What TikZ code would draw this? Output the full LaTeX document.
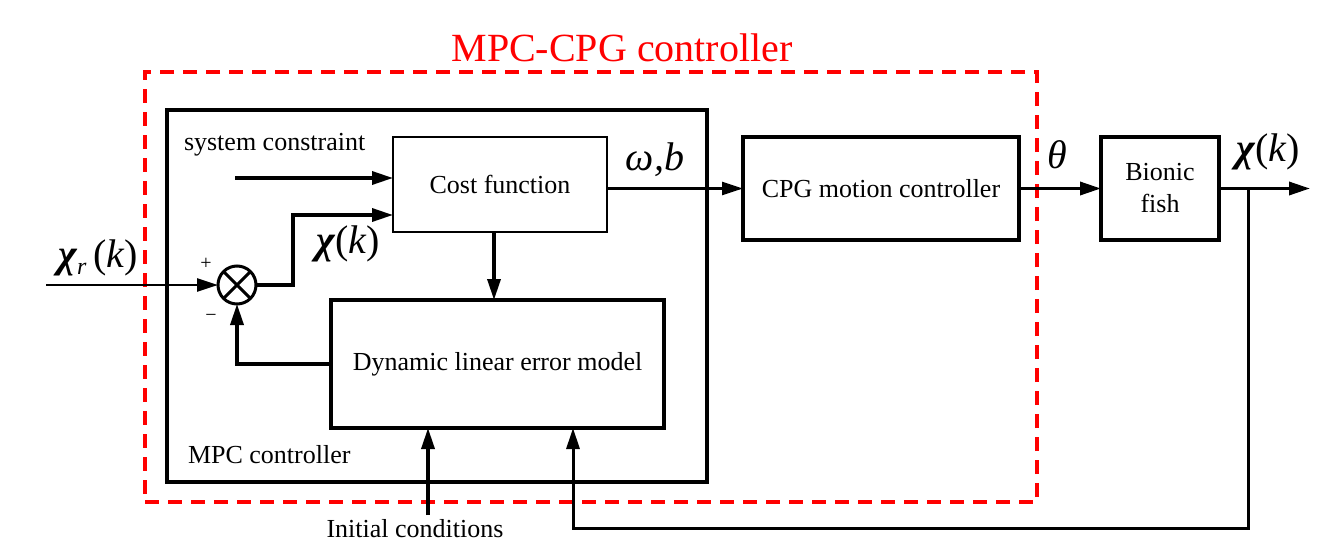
\documentclass[tikz,border=0pt]{standalone}
\usepackage{fontspec}
\setmainfont{Liberation Serif}
\usetikzlibrary{arrows.meta}
\begin{document}
\begin{tikzpicture}[x=1pt,y=-1pt,
  every node/.style={outer sep=0pt, inner sep=0pt},
  txt/.style={font=\fontsize{26}{30}\selectfont},
  mth/.style={font=\fontsize{40}{46}\selectfont\itshape},
  block/.style={draw, line width=3.6pt, txt, align=center},
  thinblock/.style={draw, line width=2.4pt, txt, align=center},
  tip/.style={-{Triangle[length=21pt,width=13pt]}},
  arr/.style={line width=3.4pt, tip},
  ln/.style={line width=3pt},
  redbox/.style={draw=red, line width=3.2pt, dash pattern=on 14pt off 9pt}
]
\useasboundingbox (0,0) rectangle (1325,549);

% red dashed outer box
\node[redbox, minimum width=892pt, minimum height=430pt] (outer) at (591,287) {};
\node[font=\fontsize{40}{46}\selectfont, text=red] (title) at (622,48) {MPC-CPG controller};

% MPC controller box
\node[draw, line width=3.8pt, minimum width=540pt, minimum height=372pt] (mpc) at (437,296) {};
\node[txt, anchor=west] (mpclab) at (188,455) {MPC controller};

% blocks
\node[thinblock, minimum width=214pt, minimum height=95pt] (cost) at (500,184.5) {Cost function};
\node[block, minimum width=333pt, minimum height=128pt] (dyn) at (497.5,364) {Dynamic linear error model};
\node[block, minimum width=276pt, minimum height=103pt] (cpg) at (881,188.5) {CPG motion controller};
\node[block, minimum width=118pt, minimum height=103pt] (fish) at (1160,188.5) {Bionic\\[2pt]fish};

% summing junction
\node[draw, circle, line width=3pt, minimum size=38pt] (sum) at (237,285) {};
\draw[line width=3pt] (sum.north west) -- (sum.south east) (sum.north east) -- (sum.south west);
\node[font=\fontsize{20}{24}\selectfont] (plus) at (206,264) {+};
\node[font=\fontsize{20}{24}\selectfont] (minus) at (211,318) {−};

% coordinates
\coordinate (in) at (46,285);
\coordinate (sc) at (235,178);
\coordinate (out) at (1310,188.5);
\coordinate (fbtop) at (1248,188.5);
\coordinate (fbbot) at (1248,528);
\coordinate (ic) at (428,515);

% labels
\node[txt, anchor=west] (sclab) at (184,145) {system constraint};
\node[mth] (xr) at (98,258) {{\bfseries χ}{\fontsize{24}{28}\selectfont\raisebox{-7pt}{r}}\,\upshape(\itshape k\upshape)};
\node[mth] (xk1) at (348,244) {{\bfseries χ}\upshape(\itshape k\upshape)};
\node[mth] (wb) at (655,160) {ω,b};
\node[mth] (th) at (1057,155) {θ};
\node[mth] (xk2) at (1268,152) {{\bfseries χ}\upshape(\itshape k\upshape)};
\node[txt] (iclab) at (415,529) {Initial conditions};

% connectors
\draw[line width=2.4pt, tip] (in) -- (sum.west);
\draw[arr] (sum.east) -- ++(37,0) |- ([yshift=-30.5pt]cost.west);
\draw[arr] (sc) -- (sc -| cost.west);
\draw[arr] ([xshift=-6pt]cost.south) -- ([xshift=-6pt]cost.south |- dyn.north);
\draw[arr] (dyn.west) -| (sum.south);
\draw[line width=2.4pt, tip] (cost.east |- cpg.west) -- (cpg.west);
\draw[arr] (cpg.east) -- (fish.west);
\draw[arr] (fish.east) -- (out);
\draw[ln, tip] (fbtop) -- (fbbot) -| ([xshift=75.5pt]dyn.south);
\draw[arr] (ic) -- (ic |- dyn.south);
\end{tikzpicture}
\end{document}
